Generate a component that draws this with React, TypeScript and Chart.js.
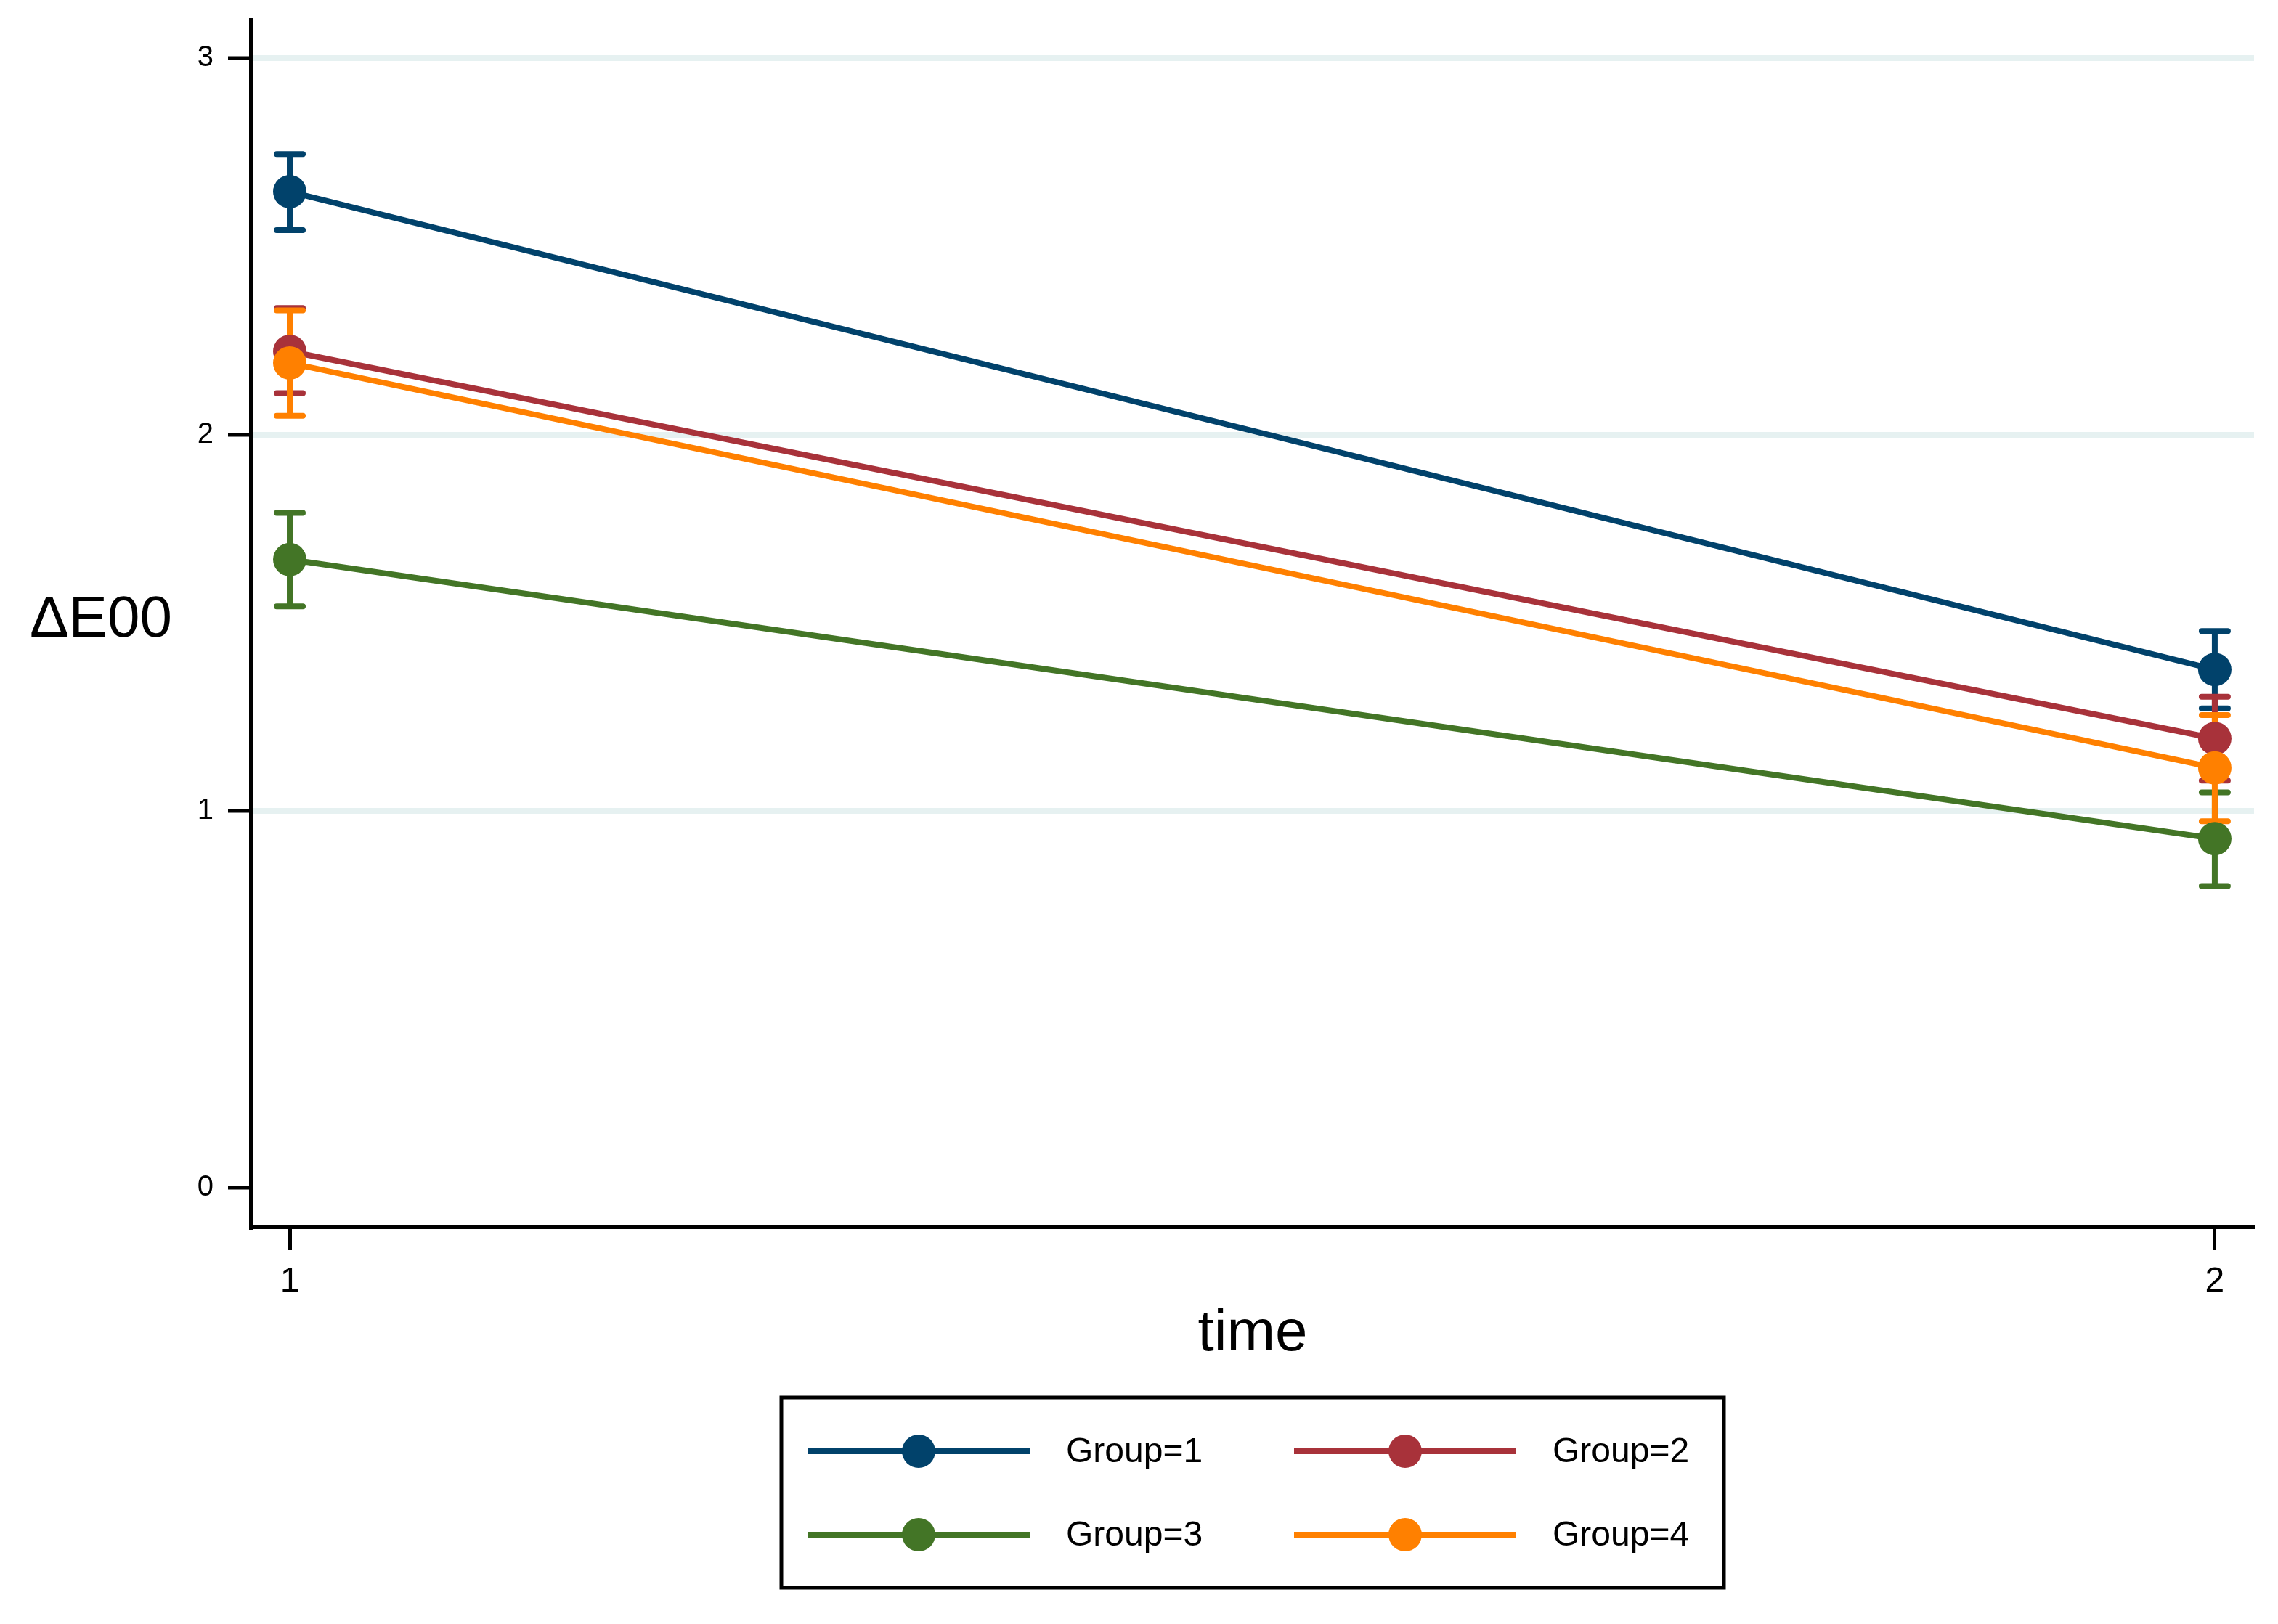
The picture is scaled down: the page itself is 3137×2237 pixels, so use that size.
import React, { useEffect, useRef } from "react";
import { Chart, registerables } from "chart.js";

Chart.register(...registerables);

const times = [1, 2];
const groupLabels = ["Group=1", "Group=2", "Group=3", "Group=4"];
const groupColors = ["#01426b", "#a8323a", "#437526", "#ff8000"];
const g1Mean = [2.645, 1.376];
const g1Low = [2.543, 1.273];
const g1High = [2.745, 1.478];
const g2Mean = [2.221, 1.193];
const g2Low = [2.11, 1.081];
const g2High = [2.336, 1.304];
const g3Mean = [1.668, 0.927];
const g3Low = [1.544, 0.801];
const g3High = [1.792, 1.05];
const g4Mean = [2.19, 1.115];
const g4Low = [2.05, 0.973];
const g4High = [2.33, 1.255];
const yTicks = [0, 1, 2, 3];
const xTicks = [1, 2];
const yTitle = "ΔE00";
const xTitle = "time";

const means = [g1Mean, g2Mean, g3Mean, g4Mean];
const lows = [g1Low, g2Low, g3Low, g4Low];
const highs = [g1High, g2High, g3High, g4High];

const FONT = "'Liberation Sans', Arial, sans-serif";

const errorBarPlugin = {
  id: "errorBars",
  beforeDatasetsDraw(chart: any) {
    const ctx = chart.ctx;
    const xs = chart.scales.x;
    const ys = chart.scales.y;
    ctx.save();
    for (let g = 0; g < means.length; g++) {
      ctx.strokeStyle = groupColors[g];
      for (let i = 0; i < times.length; i++) {
        const px = xs.getPixelForValue(times[i]);
        const pl = ys.getPixelForValue(lows[g][i]);
        const ph = ys.getPixelForValue(highs[g][i]);
        ctx.lineCap = "butt";
        ctx.lineWidth = 8;
        ctx.beginPath();
        ctx.moveTo(px, pl);
        ctx.lineTo(px, ph);
        ctx.stroke();
        ctx.lineCap = "round";
        ctx.lineWidth = 8;
        ctx.beginPath();
        ctx.moveTo(px - 18, pl);
        ctx.lineTo(px + 18, pl);
        ctx.moveTo(px - 18, ph);
        ctx.lineTo(px + 18, ph);
        ctx.stroke();
      }
    }
    ctx.restore();
  },
};

const titlesLegendPlugin = {
  id: "titlesLegend",
  afterDraw(chart: any) {
    const ctx = chart.ctx;
    const ca = chart.chartArea;
    ctx.save();
    ctx.fillStyle = "#000";
    ctx.font = `80px ${FONT}`;
    ctx.textAlign = "center";
    ctx.textBaseline = "alphabetic";
    ctx.fillText(xTitle, (ca.left + ca.right) / 2, ca.bottom + 170);
    ctx.textBaseline = "middle";
    ctx.fillText(yTitle, 139, (ca.top + ca.bottom) / 2 - 4);

    const cx = (ca.left + ca.right) / 2;
    const boxW = 1298;
    const boxH = 262;
    const boxL = cx - boxW / 2;
    const boxT = ca.bottom + 235;
    ctx.lineWidth = 5;
    ctx.strokeStyle = "#000";
    ctx.strokeRect(boxL, boxT, boxW, boxH);

    const colLineStart = [boxL + 36, boxL + 706];
    const rowY = [boxT + 74, boxT + 189];
    const ds = chart.data.datasets;
    for (let i = 0; i < ds.length; i++) {
      const col = i % 2;
      const row = Math.floor(i / 2);
      const x0 = colLineStart[col];
      const y = rowY[row];
      ctx.strokeStyle = ds[i].borderColor;
      ctx.lineWidth = 8;
      ctx.lineCap = "butt";
      ctx.beginPath();
      ctx.moveTo(x0, y);
      ctx.lineTo(x0 + 306, y);
      ctx.stroke();
      ctx.fillStyle = ds[i].borderColor;
      ctx.beginPath();
      ctx.arc(x0 + 153, y, 23, 0, Math.PI * 2);
      ctx.fill();
      ctx.fillStyle = "#000";
      ctx.font = `48px ${FONT}`;
      ctx.textAlign = "left";
      ctx.textBaseline = "middle";
      ctx.fillText(ds[i].label, x0 + 356, y + 2);
    }
    ctx.restore();
  },
};

export default function App() {
  const canvasRef = useRef<HTMLCanvasElement | null>(null);

  useEffect(() => {
    if (!canvasRef.current) return;
    const datasets = means.map((m, g) => ({
      label: groupLabels[g],
      data: m.map((v, i) => ({ x: times[i], y: v })),
      borderColor: groupColors[g],
      backgroundColor: groupColors[g],
      borderWidth: 8,
      pointRadius: 23,
      pointBorderWidth: 0,
      pointBackgroundColor: groupColors[g],
      pointHoverRadius: 23,
      tension: 0,
      order: means.length - g,
    }));

    const chart = new Chart(canvasRef.current, {
      type: "line",
      data: { datasets },
      plugins: [errorBarPlugin, titlesLegendPlugin],
      options: {
        animation: false,
        responsive: false,
        devicePixelRatio: 1,
        layout: { padding: { left: 0, right: 33, top: 28, bottom: 447 } },
        plugins: {
          legend: { display: false },
          tooltip: { enabled: false },
          title: { display: false },
        },
        scales: {
          x: {
            type: "linear",
            min: 0.98,
            max: 2.0204,
            afterBuildTicks: (scale: any) => {
              scale.ticks = xTicks.map((v) => ({ value: v }));
            },
            afterFit: (scale: any) => {
              scale.height = 100;
              scale.paddingLeft = 0;
              scale.paddingRight = 0;
            },
            grid: {
              drawOnChartArea: false,
              drawTicks: true,
              tickLength: 32,
              tickWidth: 5,
              tickColor: "#000",
              color: "rgba(0,0,0,0)",
            },
            border: { display: true, color: "#000", width: 6 },
            ticks: {
              color: "#000",
              font: { family: FONT, size: 48 },
              padding: 15,
              maxRotation: 0,
              callback: (v: any) => String(v),
            },
          },
          y: {
            type: "linear",
            min: -0.104,
            max: 3.1,
            afterBuildTicks: (scale: any) => {
              scale.ticks = yTicks.map((v) => ({ value: v }));
            },
            afterFit: (scale: any) => {
              scale.width = 346;
              scale.paddingTop = 0;
              scale.paddingBottom = 0;
            },
            grid: {
              drawOnChartArea: true,
              drawTicks: true,
              tickLength: 32,
              tickWidth: 5,
              tickColor: "#000",
              lineWidth: 8,
              color: (c: any) => (c.tick && c.tick.value === 0 ? "rgba(0,0,0,0)" : "#e6f1f1"),
            },
            border: { display: true, color: "#000", width: 6 },
            ticks: {
              color: "#000",
              font: { family: FONT, size: 40 },
              padding: 20,
              callback: (v: any) => String(v),
            },
          },
        },
      },
    });
    return () => chart.destroy();
  }, []);

  return (
    <div style={{ position: "fixed", left: 0, top: 0, width: 3137, height: 2237, background: "#fff" }}>
      <canvas ref={canvasRef} width={3137} height={2237} style={{ display: "block", width: 3137, height: 2237 }} />
    </div>
  );
}
